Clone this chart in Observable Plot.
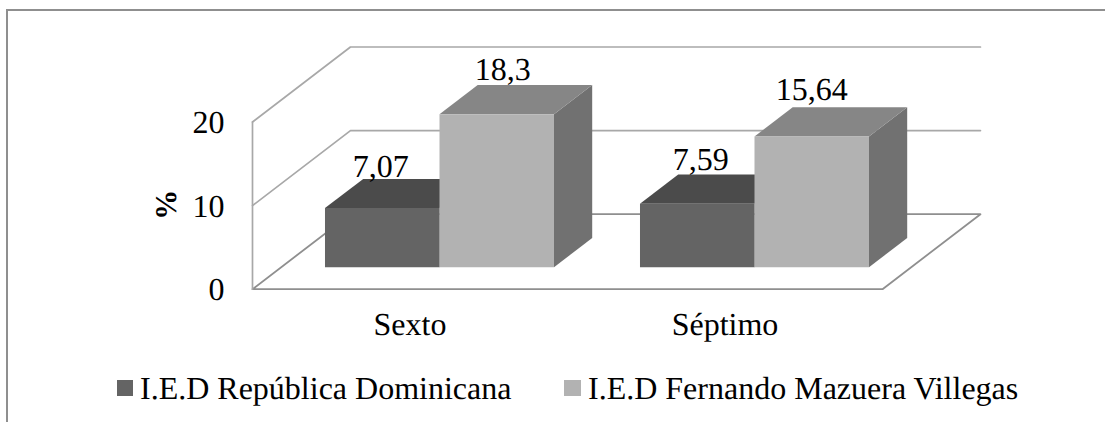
<!DOCTYPE html>
<html lang="es">
<head>
<meta charset="utf-8">
<script src="https://cdn.jsdelivr.net/npm/d3@7"></script>
<script src="https://cdn.jsdelivr.net/npm/@observablehq/plot@0.6"></script>
<style>
  html, body { margin: 0; padding: 0; background: #fff; }
  body { width: 1105px; height: 422px; overflow: hidden; position: relative; font-family: "Liberation Serif", serif; text-rendering: geometricPrecision; }
  #frame { position: absolute; left: 6px; top: 9px; right: 0; bottom: 0; border-top: 2px solid #8f8f8f; border-left: 2px solid #8f8f8f; }
  #chart { position: absolute; left: 0; top: 0; }
  #chart svg { display: block; text-rendering: geometricPrecision; }
  .leg { position: absolute; top: 371px; font-size: 32px; line-height: 34px; color: #000; white-space: nowrap; }
  .leg i { position: absolute; top: 9px; width: 16.5px; height: 16px; }
</style>
</head>
<body>
<div id="frame"></div>
<div id="chart"></div>
<div class="leg" id="l0" style="left:140px"><i style="left:-23.3px"></i></div>
<div class="leg" id="l1" style="left:588px"><i style="left:-24px"></i></div>
<script>
const categories = ["Sexto", "Séptimo"];
const seriesNames = ["I.E.D República Dominicana", "I.E.D Fernando Mazuera Villegas"];
const republica = [7.07, 7.59];
const fernando = [18.3, 15.64];
const yTicks = [0, 10, 20];

// colours: [front, top, side]
const shades = [["#646464", "#4b4b4b", "#4f4f4f"], ["#b2b2b2", "#868686", "#717171"]];

// oblique projection of the floor depth (0 = front edge, 1 = back wall) onto the x / y scales
const depthX = 0.311, depthY = 8.97;
const px = (x, d) => x + d * depthX;
const py = (v, d) => v + d * depthY;
const barFront = 0.293, barBack = 0.683, barWidth = 0.3635, catCentre = 0.5025;

const faces = [];
const labels = [];
// layout nudges of the value labels, in x-units and y-units
const nudge = [[[-0.005, 0.05], [0.019, 0.45]], [[0.011, 0.4], [0, 0.8]]];
[republica, fernando].forEach((vals, s) => {
  vals.forEach((v, c) => {
    const x0 = c + catCentre + (s - 1) * barWidth, x1 = x0 + barWidth;
    const id = `${s}-${c}`;
    const poly = (name, fill, pts) => pts.forEach(([x, val, d], i) =>
      faces.push({z: id + name, fill, i, x: px(x, d), y: py(val, d)}));
    poly("side", shades[s][2], [[x1, 0, barFront], [x1, 0, barBack], [x1, v, barBack], [x1, v, barFront]]);
    poly("top", shades[s][1], [[x0, v, barFront], [x1, v, barFront], [x1, v, barBack], [x0, v, barBack]]);
    poly("front", shades[s][0], [[x0, 0, barFront], [x1, 0, barFront], [x1, v, barFront], [x0, v, barFront]]);
    labels.push({
      text: String(v).replace(".", ","),
      x: px(x0 + barWidth / 2, barFront) + nudge[c][s][0],
      y: py(v, barBack) + nudge[c][s][1]
    });
  });
});

// walls and floor
const gridLines = [];
yTicks.filter(t => t > 0).forEach(t => {
  gridLines.push({z: "wall" + t, x: 0, y: t}, {z: "wall" + t, x: px(0, 1), y: py(t, 1)}, {z: "wall" + t, x: px(2, 1), y: py(t, 1)});
});
gridLines.push({z: "edge", x: 0, y: 0}, {z: "edge", x: 0, y: yTicks[2]});
const floorLines = [
  {z: "f", x: px(0, 1), y: py(0, 1)}, {z: "f", x: 0, y: 0}, {z: "f", x: 2, y: 0},
  {z: "f", x: px(2, 1), y: py(0, 1)}, {z: "f", x: px(0, 1), y: py(0, 1)}
];

const chart = Plot.plot({
  width: 1105,
  height: 360,
  marginLeft: 252,
  marginRight: 223,
  marginTop: 121.5,
  marginBottom: 71.3,
  style: {background: "transparent", fontFamily: "'Liberation Serif', serif", overflow: "visible"},
  x: {domain: [0, 2], axis: null},
  y: {domain: [0, 20], axis: null},
  marks: [
    Plot.line(floorLines, {x: "x", y: "y", z: "z", stroke: "#8f8f8f", strokeWidth: 1.8, curve: "linear"}),
    Plot.line(gridLines, {x: "x", y: "y", z: "z", stroke: "#a8a8a8", strokeWidth: 1.7, curve: "linear"}),
    Plot.axisY({ticks: yTicks, tickSize: 0, tickPadding: 28, fontSize: 32, label: null, tickFormat: d => String(d), color: "#000", dy: 1}),
    Plot.text(["%"], {x: [-0.274], y: [10.1], text: d => d, rotate: -90, fontSize: 30, fontWeight: "bold", fill: "#000"}),
    Plot.text(categories, {x: [0.5, 1.5], y: [-4.2, -4.2], text: d => d, fontSize: 32, fill: "#000"}),
    Plot.line(faces, {x: "x", y: "y", z: "z", fill: "fill", stroke: null, sort: {channel: null}, curve: "linear-closed"}),
    Plot.text(labels, {x: "x", y: "y", text: "text", fontSize: 32, fill: "#000", lineAnchor: "bottom", dy: -1})
  ]
});
document.getElementById("chart").append(chart);

seriesNames.forEach((n, i) => {
  const el = document.getElementById("l" + i);
  el.append(n);
  el.querySelector("i").style.background = shades[i][0];
});
</script>
</body>
</html>
